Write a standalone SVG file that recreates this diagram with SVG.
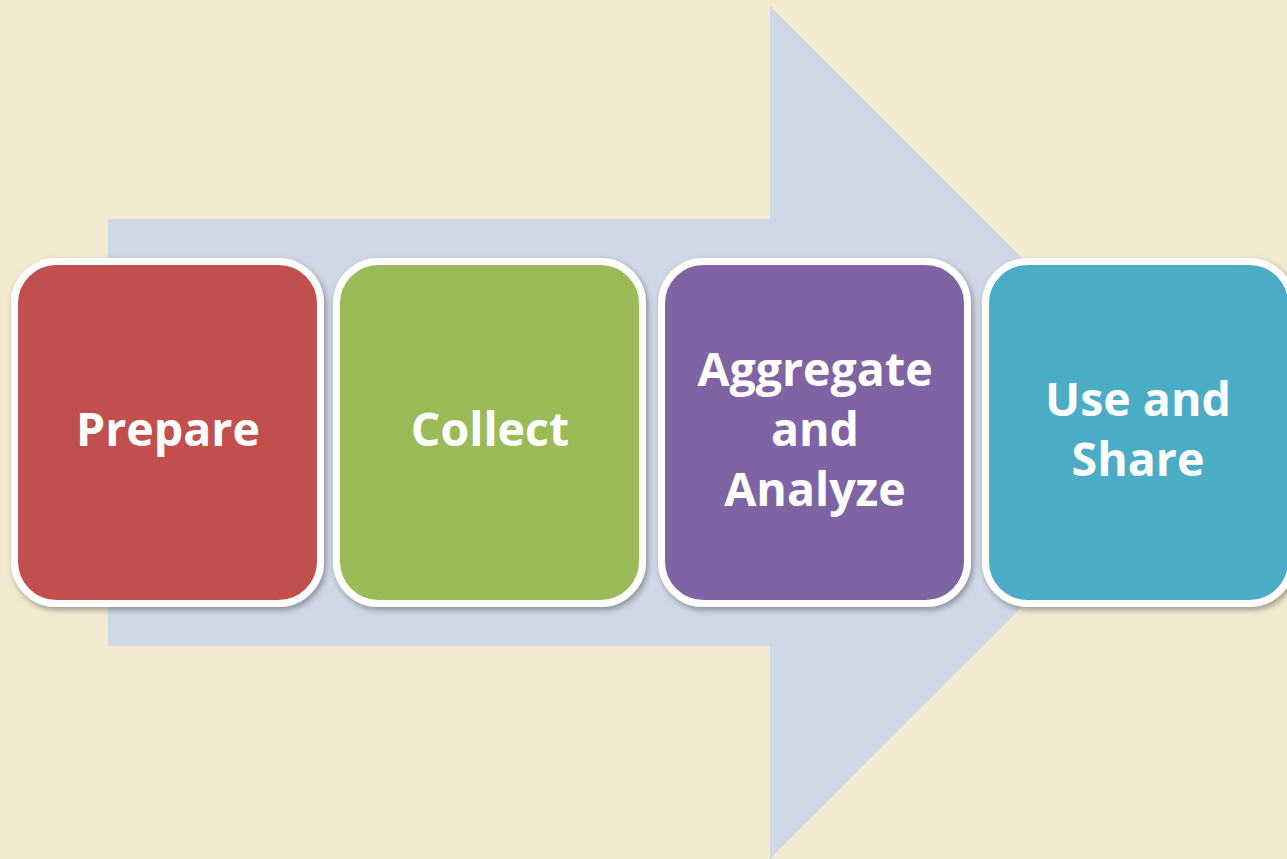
<svg xmlns="http://www.w3.org/2000/svg" width="1287" height="859" viewBox="0 0 1287 859">
  <style>
    .box { stroke: #FFFFFF; stroke-width: 7; filter: url(#shadow); }
    .lbl { font-family: "Open Sans", "Liberation Sans", sans-serif; font-weight: bold; font-size: 46.5px; fill: #FFFFFF; text-anchor: middle; }
  </style>
  <defs>
    <filter id="shadow" x="-10%" y="-10%" width="125%" height="125%">
      <feDropShadow dx="2" dy="3" stdDeviation="3" flood-color="#000000" flood-opacity="0.35"/>
    </filter>
  </defs>
  <rect x="0" y="0" width="1287" height="859" fill="#F2EBD0"/>
  <g id="arrow">
    <polygon points="108,219 770,219 770,6 1196,432 770,859 770,646 108,646" fill="#D0D8E7"/>
  </g>
  <g id="connectors"/>
  <g id="node-prepare">
    <rect class="box" x="14.5" y="261.5" width="306" height="342" rx="42" fill="#C0504D"/>
    <text class="lbl" x="168" y="446">Prepare</text>
  </g>
  <g id="node-collect">
    <rect class="box" x="336.5" y="261.5" width="306" height="342" rx="42" fill="#9BBB59"/>
    <text class="lbl" x="490" y="446">Collect</text>
  </g>
  <g id="node-aggregate">
    <rect class="box" x="661.5" y="261.5" width="306" height="342" rx="42" fill="#8064A2"/>
    <text class="lbl" x="815" y="386">Aggregate</text>
    <text class="lbl" x="815" y="446">and</text>
    <text class="lbl" x="815" y="506">Analyze</text>
  </g>
  <g id="node-use">
    <rect class="box" x="985.5" y="261.5" width="306" height="342" rx="42" fill="#4BACC6"/>
    <text class="lbl" x="1138" y="416">Use and</text>
    <text class="lbl" x="1138" y="476">Share</text>
  </g>
</svg>
